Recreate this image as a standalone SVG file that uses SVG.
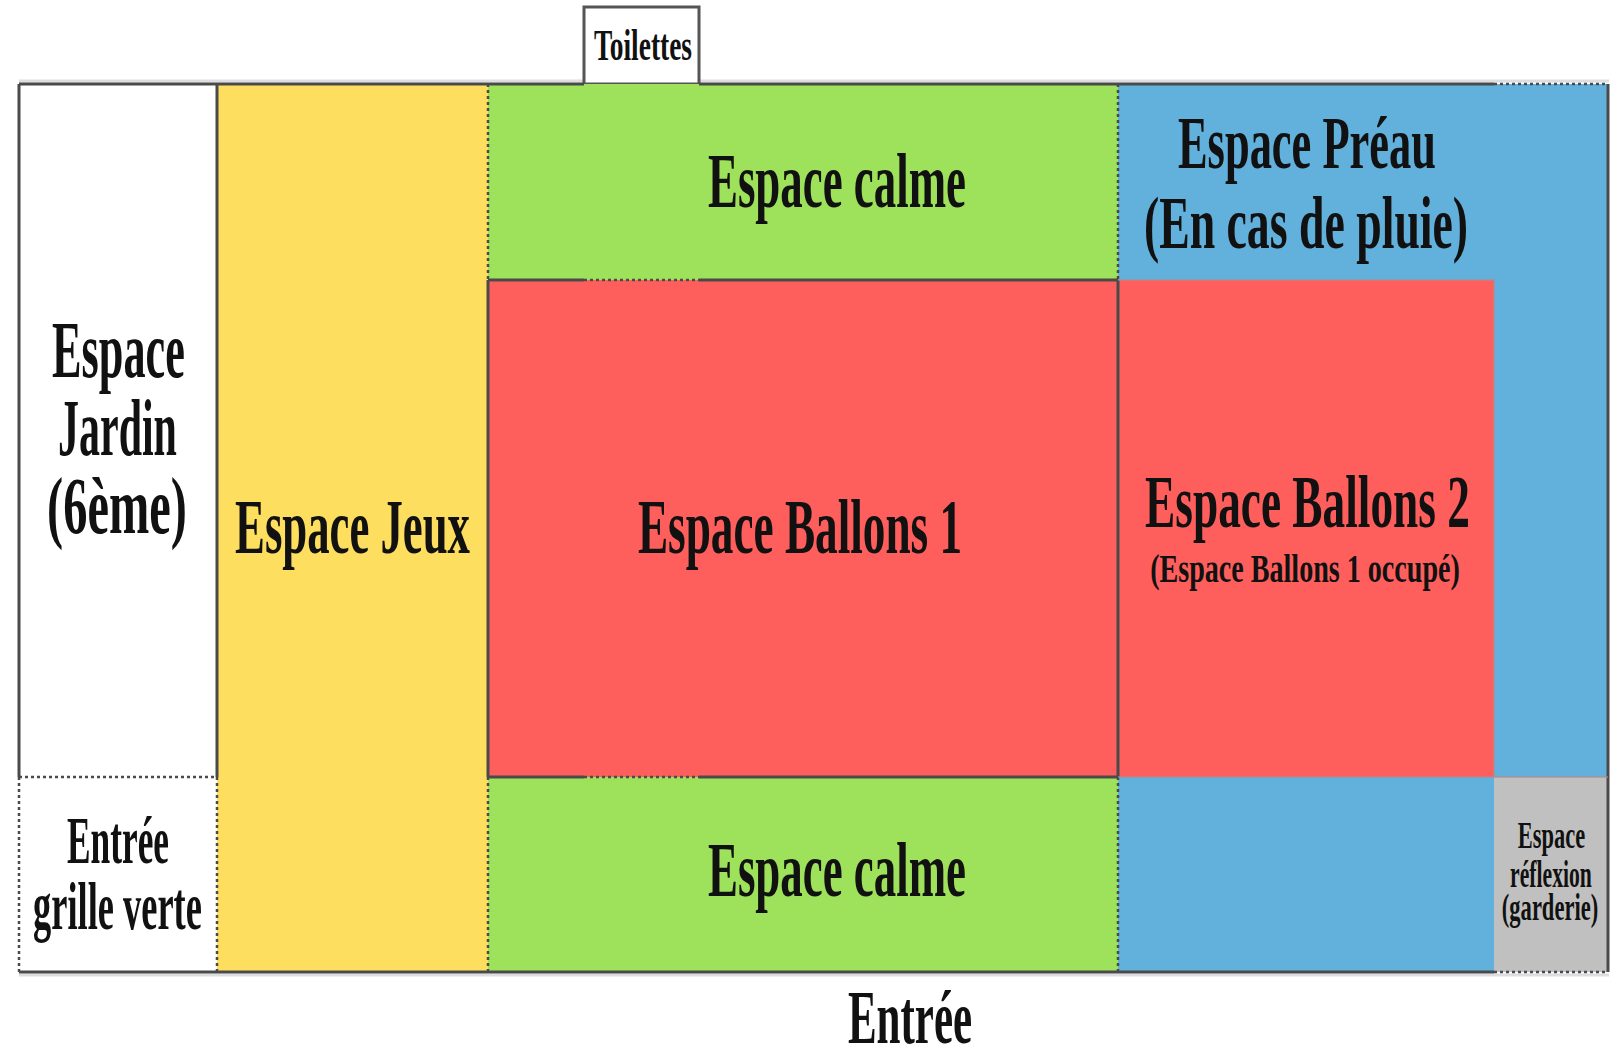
<svg xmlns="http://www.w3.org/2000/svg" width="1619" height="1049" viewBox="0 0 1619 1049">
<style>
.t{font-family:"Liberation Serif","Times New Roman",serif;font-weight:bold;fill:#111;text-anchor:middle;}
.s{stroke:#4a4a4a;stroke-width:3;fill:none;}
.d{stroke:#4a4a4a;stroke-width:2.5;stroke-dasharray:3 3;fill:none;}
.soft{stroke:#b08a90;stroke-width:2;fill:none;opacity:0.6;}
</style>
<rect x="0" y="0" width="1619" height="1049" fill="#ffffff"/>
<line x1="19" y1="81" x2="1609" y2="81" stroke="#dddde2" stroke-width="3"/>
<line x1="19" y1="975" x2="1609" y2="975" stroke="#dddde2" stroke-width="3"/>

<g id="toilettes">
<rect x="584" y="7" width="115" height="77" fill="#ffffff" stroke="#555" stroke-width="3"/>
<text class="t" transform="translate(643 60) scale(0.58 1)" font-size="44" textLength="169" lengthAdjust="spacingAndGlyphs">Toilettes</text>
</g>

<g id="espace-jardin">
<rect x="19" y="84" width="198" height="693" fill="#ffffff"/>
<text class="t" transform="translate(118.5 377) scale(0.58 1)" font-size="80" textLength="229" lengthAdjust="spacingAndGlyphs">Espace</text>
<text class="t" transform="translate(117.5 455) scale(0.58 1)" font-size="80" textLength="205" lengthAdjust="spacingAndGlyphs">Jardin</text>
<text class="t" transform="translate(117 533) scale(0.58 1)" font-size="80" textLength="241" lengthAdjust="spacingAndGlyphs">(6ème)</text>
</g>

<g id="entree-grille">
<rect x="19" y="777" width="198" height="195" fill="#ffffff"/>
<text class="t" transform="translate(118 863) scale(0.58 1)" font-size="68" textLength="176" lengthAdjust="spacingAndGlyphs">Entrée</text>
<text class="t" transform="translate(117.5 929) scale(0.58 1)" font-size="68" textLength="291" lengthAdjust="spacingAndGlyphs">grille verte</text>
</g>

<g id="espace-jeux">
<rect x="217" y="84" width="271" height="888" fill="#fede5e"/>
<text class="t" transform="translate(352.5 553) scale(0.58 1)" font-size="78" textLength="405" lengthAdjust="spacingAndGlyphs">Espace Jeux</text>
</g>

<g id="espace-calme-haut">
<rect x="488" y="84" width="630" height="196" fill="#9ee15a"/>
<text class="t" transform="translate(837 207) scale(0.58 1)" font-size="78" textLength="445" lengthAdjust="spacingAndGlyphs">Espace calme</text>
</g>

<g id="espace-ballons-1">
<rect x="488" y="280" width="630" height="497" fill="#ff5f5c"/>
<text class="t" transform="translate(800 553) scale(0.58 1)" font-size="78" textLength="559" lengthAdjust="spacingAndGlyphs">Espace Ballons 1</text>
</g>

<g id="espace-calme-bas">
<rect x="488" y="777" width="630" height="195" fill="#9ee15a"/>
<text class="t" transform="translate(837 896) scale(0.58 1)" font-size="78" textLength="445" lengthAdjust="spacingAndGlyphs">Espace calme</text>
</g>

<g id="espace-preau">
<rect x="1118" y="84" width="490" height="888" fill="#62b0dc"/>
<text class="t" transform="translate(1307 168) scale(0.58 1)" font-size="75" textLength="445" lengthAdjust="spacingAndGlyphs">Espace Préau</text>
<text class="t" transform="translate(1306 248) scale(0.58 1)" font-size="75" textLength="559" lengthAdjust="spacingAndGlyphs">(En cas de pluie)</text>
</g>

<g id="espace-ballons-2">
<rect x="1118" y="280" width="376" height="497" fill="#ff5f5c"/>
<text class="t" transform="translate(1307.5 527) scale(0.58 1)" font-size="75" textLength="560" lengthAdjust="spacingAndGlyphs">Espace Ballons 2</text>
<text class="t" transform="translate(1305 582) scale(0.58 1)" font-size="40" textLength="534" lengthAdjust="spacingAndGlyphs">(Espace Ballons 1 occupé)</text>
</g>

<g id="espace-reflexion">
<rect x="1494" y="777" width="114" height="195" fill="#c0c0c0"/>
<text class="t" transform="translate(1551.5 848) scale(0.58 1)" font-size="38" textLength="116" lengthAdjust="spacingAndGlyphs" fill="#222">Espace</text>
<text class="t" transform="translate(1551 887) scale(0.58 1)" font-size="38" textLength="141" lengthAdjust="spacingAndGlyphs">réflexion</text>
<text class="t" transform="translate(1550 920) scale(0.58 1)" font-size="38" textLength="166" lengthAdjust="spacingAndGlyphs">(garderie)</text>
</g>

<g id="entree">
<text class="t" transform="translate(910 1043) scale(0.58 1)" font-size="76" textLength="214" lengthAdjust="spacingAndGlyphs">Entrée</text>
</g>

<g id="borders">
<path class="s" d="M19 84H584M699 84H1494"/>
<path class="d" d="M1494 84H1608"/>
<path class="s" d="M19 972H1494"/>
<path class="d" d="M1494 972H1608"/>
<path class="s" d="M1608 84V972" stroke="#666"/>
<path class="s" d="M19 84V777M217 84V777"/>
<path class="d" d="M19 777V972M217 777V972M19 777H217"/>
<path class="d" d="M488 84V280M488 777V972M1118 84V280M1118 777V972"/>
<path class="s" d="M488 280V777M1118 280V777"/>
<path class="s" d="M488 280H584M699 280H1118M488 777H584M699 777H1118"/>
<path class="d" d="M584 280H699M584 777H699"/>
<path class="soft" d="M1118 280H1494V777H1118M1494 777H1608"/>
</g>
</svg>
